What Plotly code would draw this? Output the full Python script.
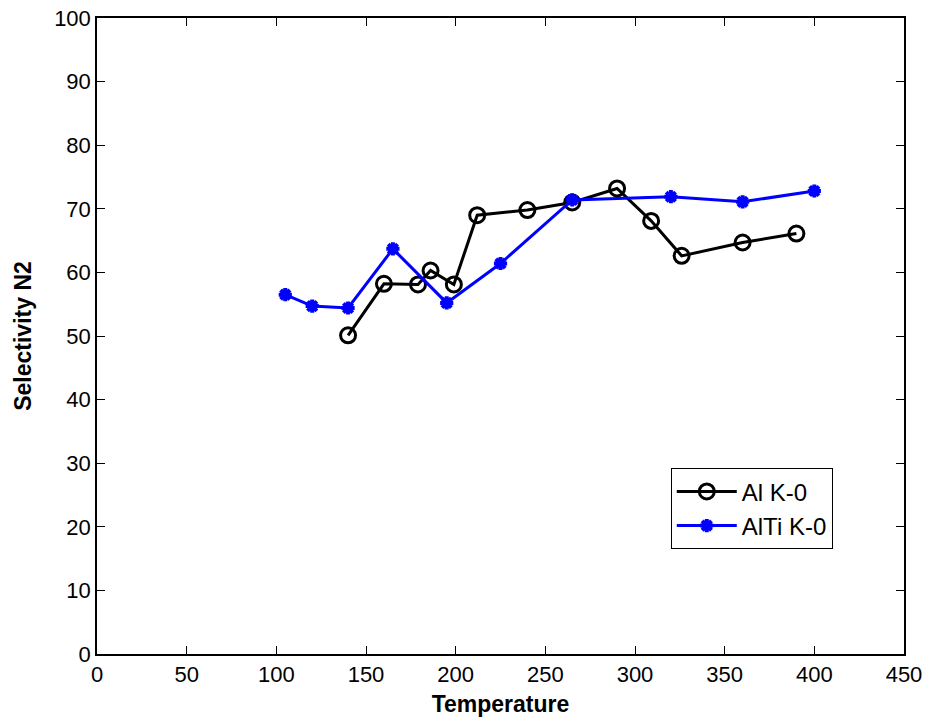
import plotly.graph_objects as go

al_temp = [140, 160, 179, 186, 199, 212, 240, 265, 290, 309, 326, 360, 390]
al_sel = [50.1, 58.2, 58.1, 60.3, 58.1, 69.0, 69.8, 71.0, 73.2, 68.1, 62.6, 64.7, 66.1]

alti_temp = [105, 120, 140, 165, 195, 225, 265, 320, 360, 400]
alti_sel = [56.5, 54.7, 54.4, 63.7, 55.2, 61.4, 71.4, 71.9, 71.1, 72.8]

x_ticks = [0, 50, 100, 150, 200, 250, 300, 350, 400, 450]
y_ticks = [0, 10, 20, 30, 40, 50, 60, 70, 80, 90, 100]

FONT = "Liberation Sans, Arial"

fig = go.Figure()
fig.add_trace(go.Scatter(
    x=al_temp, y=al_sel, mode="lines+markers", name="Al K-0",
    line=dict(color="black", width=3),
    marker=dict(symbol="circle-open", size=15, color="black", line=dict(width=3)),
))
fig.add_trace(go.Scatter(
    x=alti_temp, y=alti_sel, mode="lines+markers", name="AlTi K-0",
    line=dict(color="#0000ff", width=3),
    marker=dict(symbol="asterisk-open", size=11, color="#0000ff", line=dict(width=4, color="#0000ff")),
))

axis_common = dict(
    showline=True, linecolor="black", linewidth=1.5, mirror="ticks",
    ticks="inside", ticklen=8, tickcolor="black", tickwidth=1,
    showgrid=False, zeroline=False, automargin=False,
    tickfont=dict(family=FONT, size=22, color="black"),
)

fig.update_layout(
    width=930, height=723,
    margin=dict(l=97, r=26, t=18, b=69, autoexpand=False),
    paper_bgcolor="white", plot_bgcolor="white",
    xaxis=dict(range=[0, 450], tickvals=x_ticks,
               title=dict(text="<b>Temperature</b>", standoff=10,
                          font=dict(family=FONT, size=23, color="black")),
               **axis_common),
    yaxis=dict(range=[0, 100], tickvals=y_ticks,
               title=dict(text="<b>Selectivity N2</b>", standoff=16,
                          font=dict(family=FONT, size=23, color="black")),
               **axis_common),
    legend=dict(x=0.711, y=0.292, xanchor="left", yanchor="top",
                bordercolor="black", borderwidth=1, bgcolor="white",
                font=dict(family=FONT, size=24, color="black"),
                itemwidth=60),
    showlegend=True,
)

fig.write_html("out.html")
